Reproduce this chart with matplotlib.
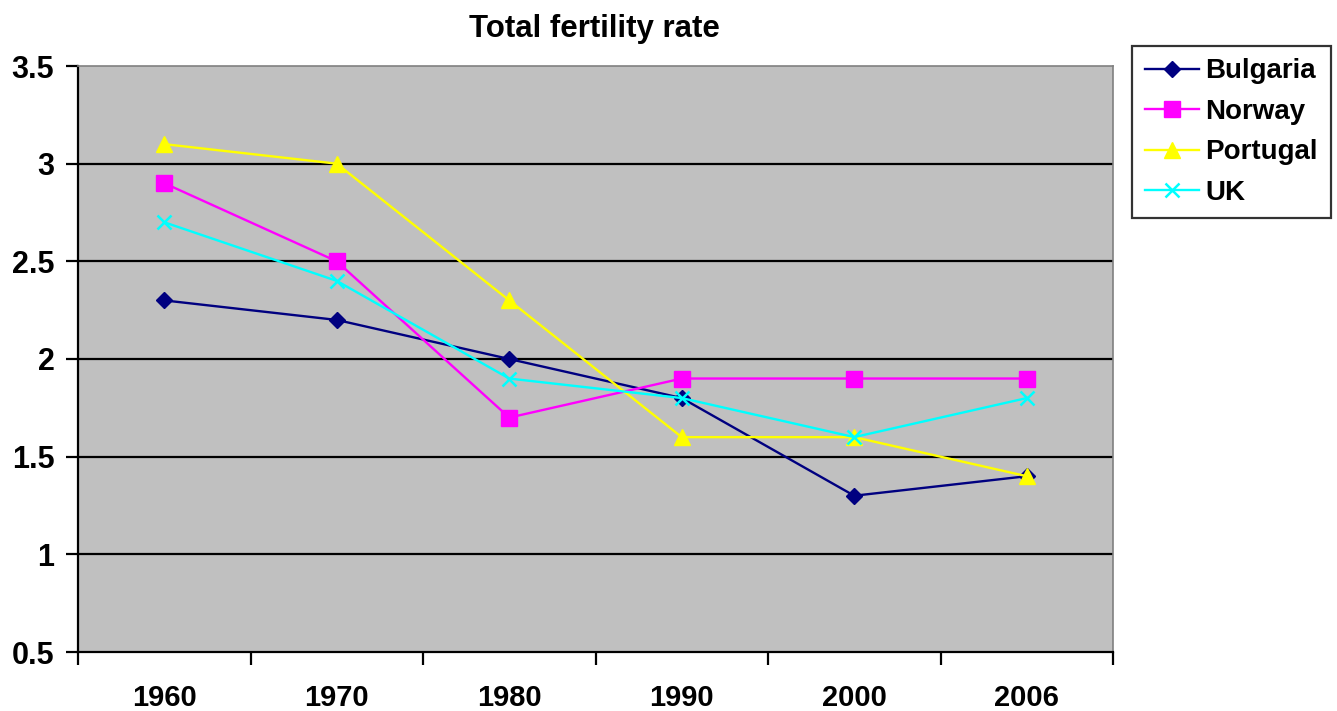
import matplotlib
matplotlib.use("Agg")
import matplotlib.pyplot as plt
import numpy as np

plt.rcParams['font.family'] = ['Liberation Sans', 'DejaVu Sans']
plt.rcParams['font.weight'] = 'bold'

years = ['1960', '1970', '1980', '1990', '2000', '2006']
bulgaria = [2.3, 2.2, 2.0, 1.8, 1.3, 1.4]
norway = [2.9, 2.5, 1.7, 1.9, 1.9, 1.9]
portugal = [3.1, 3.0, 2.3, 1.6, 1.6, 1.4]
uk = [2.7, 2.4, 1.9, 1.8, 1.6, 1.8]
yticks = [0.5, 1, 1.5, 2, 2.5, 3, 3.5]
ytick_labels = ['0.5', '1', '1.5', '2', '2.5', '3', '3.5']

fig = plt.figure(figsize=(13.37, 7.11), dpi=100)
ax = fig.add_axes([78/1337, 1-652/711, (1113-78)/1337, (652-66)/711])
ax.set_facecolor('#C0C0C0')

x = np.arange(len(years))
ax.plot(x, bulgaria, color='#000080', lw=1.7, marker='D', ms=8, label='Bulgaria', zorder=3)
ax.plot(x, norway, color='#FF00FF', lw=1.7, marker='s', ms=12, label='Norway', zorder=3)
ax.plot(x, portugal, color='#FFFF00', lw=1.7, marker='^', ms=12, label='Portugal', zorder=3)
ax.plot(x, uk, color='#00FFFF', lw=1.7, marker='x', ms=10, mew=1.8, label='UK', zorder=3)

ax.set_xlim(-0.5, len(years) - 0.5)
ax.set_ylim(0.5, 3.5)
ax.set_yticks(yticks)
ax.set_yticklabels(ytick_labels, fontsize=22, fontweight='bold')
for yv in yticks[1:-1]:
    ax.axhline(yv, color='black', lw=1.6, zorder=1)

ax.set_xticks(np.arange(-0.5, len(years), 1.0))
ax.set_xticklabels([])
ax.set_xticks(x, minor=True)
ax.set_xticklabels(years, minor=True, fontsize=21, fontweight='bold')
ax.tick_params(axis='x', which='major', direction='out', length=9, width=1.6)
ax.tick_params(axis='x', which='minor', length=0, pad=23)
ax.tick_params(axis='y', direction='out', length=9, width=1.6, pad=8)

for s in ['left', 'bottom']:
    ax.spines[s].set_color('black')
    ax.spines[s].set_linewidth(1.6)
for s in ['top', 'right']:
    ax.spines[s].set_color('#808080')
    ax.spines[s].set_linewidth(1.2)

fig.text((78+1113)/2/1337 - 0.001, 1-29/711, 'Total fertility rate', ha='center', va='center',
         fontsize=22.5, fontweight='bold')

leg = fig.legend(loc='upper left', bbox_to_anchor=(1132/1337, 1-46/711), frameon=True,
                 fancybox=False, edgecolor='black',
                 prop={'weight': 'bold', 'size': 20}, handlelength=1.95, labelspacing=0.52,
                 borderpad=0.45, handletextpad=0.25, borderaxespad=0)
leg.get_frame().set_linewidth(1.6)

fig.savefig('out.png', dpi=100)
